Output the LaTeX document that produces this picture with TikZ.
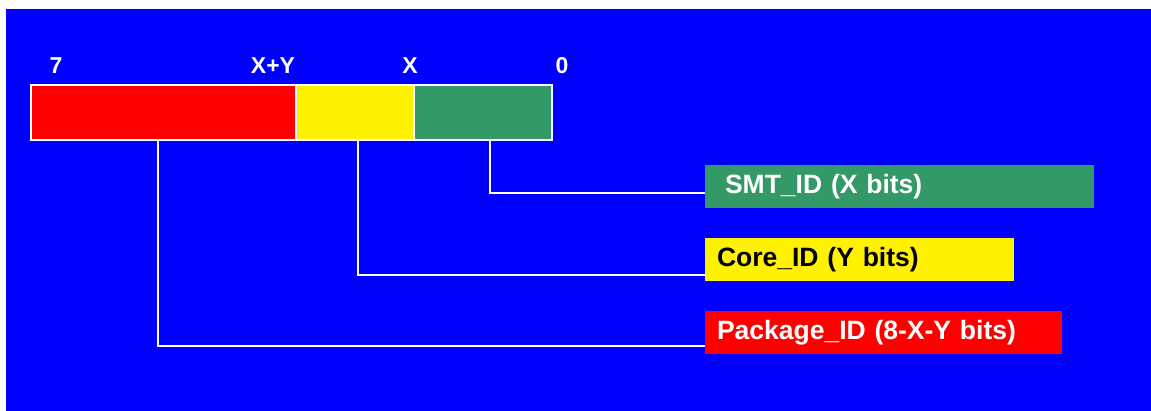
\documentclass[tikz,border=0pt]{standalone}
\usepackage{fontspec}
\setmainfont{Liberation Sans}
\usetikzlibrary{positioning}
\definecolor{smtgreen}{RGB}{51,153,102}
\tikzset{
  field/.style={draw=white,line width=1pt,outer sep=0pt,inner sep=0pt,minimum height=27.5pt},
  bit/.style={text=white,font=\fontsize{11.5}{13}\selectfont\bfseries},
  idbox/.style={anchor=north west,outer sep=0pt,minimum height=21.5pt,inner ysep=0pt,
    align=left,font=\fontsize{13.25}{15}\selectfont\bfseries},
  wire/.style={draw=white,line width=1pt}
}
\begin{document}
\begin{tikzpicture}[x=0.5pt,y=-0.5pt]
				\useasboundingbox (0,0) rectangle (1151,411);
				\fill[white] (0,0) rectangle (1151,411);
				\fill[blue] (6,9) rectangle (1151,411);
				% register fields
				\node[field,fill=red,minimum width=132.5pt,anchor=north west] (fpkg) at (31,85) {};
				\node[field,fill=yellow,minimum width=59pt,right=0pt of fpkg] (fcore) {};
				\node[field,fill=smtgreen,minimum width=69pt,right=0pt of fcore] (fsmt) {};
				% bit numbers
				\node[bit] (b7) at (56,66) {7};
				\node[bit] (bxy) at (273,66) {X+Y};
				\node[bit] (bx) at (410,66) {X};
				\node[bit] (b0) at (562,66) {0};
				% id labels
				\node[idbox,fill=smtgreen,text=white,inner xsep=10pt,text width=174.5pt] (lsmt) at (705,165) {SMT\_ID (X bits)};
				\node[idbox,fill=yellow,text=black,inner xsep=6pt,text width=142.5pt] (lcore) at (705,238) {Core\_ID (Y bits)};
				\node[idbox,fill=red,text=white,inner xsep=6pt,text width=166.5pt] (lpkg) at (705,311) {Package\_ID (8-X-Y bits)};
				% connectors
				\draw[wire] ([xshift=3.5pt]fsmt.south) |- ([yshift=7.5pt]lsmt.south west);
				\draw[wire] ([xshift=1.5pt]fcore.south) |- ([yshift=3pt]lcore.south west);
				\draw[wire] ([xshift=-2.75pt]fpkg.south) |- ([yshift=4pt]lpkg.south west);
			\end{tikzpicture}
\end{document}
